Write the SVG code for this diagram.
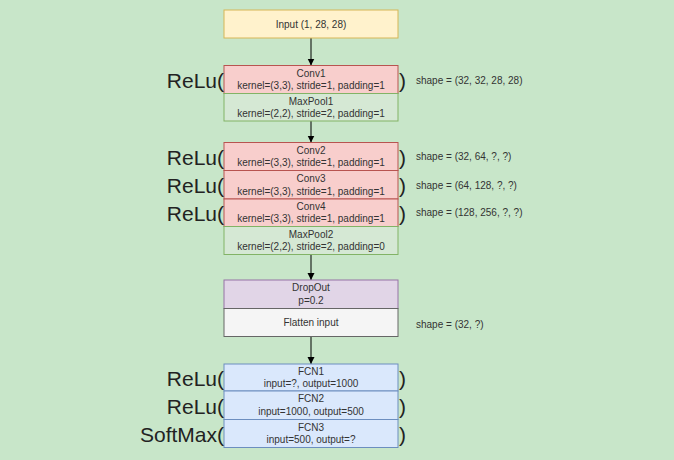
<svg xmlns="http://www.w3.org/2000/svg" width="674" height="460" viewBox="0 0 674 460">
<defs>
<marker id="arr" markerWidth="8" markerHeight="8" refX="7" refY="4" orient="auto" markerUnits="userSpaceOnUse">
<path d="M0,0.5 L7,4 L0,7.5 Z" fill="#000"/>
</marker>
<style>
.t{font-family:"Liberation Sans",Arial,sans-serif;font-size:10px;fill:#333;text-anchor:middle}
.s{font-family:"Liberation Sans",Arial,sans-serif;font-size:10px;fill:#333}
.big{font-family:"Liberation Sans",Arial,sans-serif;font-size:21px;fill:#222}
.r{text-anchor:end}
.inp{fill:#fff2cc;stroke:#d6b656}
.conv{fill:#f8cecc;stroke:#b85450}
.pool{fill:#d5e8d4;stroke:#82b366}
.drop{fill:#e1d5e7;stroke:#9673a6}
.flat{fill:#f5f5f5;stroke:#666}
.fcn{fill:#dae8fc;stroke:#6c8ebf}
.c{stroke:#000;stroke-width:1;fill:none}
</style>
</defs>
<rect width="674" height="460" fill="#c8e6c9"/>
<g id="connectors">
<line class="c" x1="311" y1="38" x2="311" y2="65.5" marker-end="url(#arr)"/>
<line class="c" x1="311" y1="121" x2="311" y2="142.5" marker-end="url(#arr)"/>
<line class="c" x1="311" y1="254.5" x2="311" y2="280" marker-end="url(#arr)"/>
<line class="c" x1="311" y1="336.5" x2="311" y2="364" marker-end="url(#arr)"/>
</g>
<g id="input">
<rect class="inp" x="224" y="10" width="174" height="28"/>
<text class="t" x="311" y="27.5">Input (1, 28, 28)</text>
</g>
<g id="conv1">
<rect class="conv" x="224" y="65.5" width="174" height="28"/>
<text class="t" x="311" y="76.5">Conv1</text>
<text class="t" x="311" y="89">kernel=(3,3), stride=1, padding=1</text>
<text class="big r" x="224" y="88">ReLu(</text>
<text class="big" x="399" y="88">)</text>
<text class="s" x="416" y="83.5">shape = (32, 32, 28, 28)</text>
</g>
<g id="maxpool1">
<rect class="pool" x="224" y="93.5" width="174" height="27.5"/>
<text class="t" x="311" y="104.5">MaxPool1</text>
<text class="t" x="311" y="117">kernel=(2,2), stride=2, padding=1</text>
</g>
<g id="conv2">
<rect class="conv" x="224" y="142.5" width="174" height="28"/>
<text class="t" x="311" y="153.5">Conv2</text>
<text class="t" x="311" y="166">kernel=(3,3), stride=1, padding=1</text>
<text class="big r" x="224" y="165">ReLu(</text>
<text class="big" x="399" y="165">)</text>
<text class="s" x="416" y="160">shape = (32, 64, ?, ?)</text>
</g>
<g id="conv3">
<rect class="conv" x="224" y="170.5" width="174" height="28.5"/>
<text class="t" x="311" y="181.5">Conv3</text>
<text class="t" x="311" y="194.5">kernel=(3,3), stride=1, padding=1</text>
<text class="big r" x="224" y="193">ReLu(</text>
<text class="big" x="399" y="193">)</text>
<text class="s" x="416" y="188.5">shape = (64, 128, ?, ?)</text>
</g>
<g id="conv4">
<rect class="conv" x="224" y="199" width="174" height="27.5"/>
<text class="t" x="311" y="209.5">Conv4</text>
<text class="t" x="311" y="222">kernel=(3,3), stride=1, padding=1</text>
<text class="big r" x="224" y="220.5">ReLu(</text>
<text class="big" x="399" y="220.5">)</text>
<text class="s" x="416" y="216">shape = (128, 256, ?, ?)</text>
</g>
<g id="maxpool2">
<rect class="pool" x="224" y="226.5" width="174" height="28"/>
<text class="t" x="311" y="237.5">MaxPool2</text>
<text class="t" x="311" y="250">kernel=(2,2), stride=2, padding=0</text>
</g>
<g id="dropout">
<rect class="drop" x="224" y="280" width="174" height="28.5"/>
<text class="t" x="311" y="291">DropOut</text>
<text class="t" x="311" y="304">p=0.2</text>
</g>
<g id="flatten">
<rect class="flat" x="224" y="308.5" width="174" height="28"/>
<text class="t" x="311" y="326">Flatten input</text>
<text class="s" x="416" y="327.5">shape = (32, ?)</text>
</g>
<g id="fcn1">
<rect class="fcn" x="224" y="364" width="174" height="27"/>
<text class="t" x="311" y="374.5">FCN1</text>
<text class="t" x="311" y="387">input=?, output=1000</text>
<text class="big r" x="224" y="385.5">ReLu(</text>
<text class="big" x="399" y="385.5">)</text>
</g>
<g id="fcn2">
<rect class="fcn" x="224" y="391" width="174" height="28.5"/>
<text class="t" x="311" y="402">FCN2</text>
<text class="t" x="311" y="415">input=1000, output=500</text>
<text class="big r" x="224" y="413.5">ReLu(</text>
<text class="big" x="399" y="413.5">)</text>
</g>
<g id="fcn3">
<rect class="fcn" x="224" y="419.5" width="174" height="28"/>
<text class="t" x="311" y="430.5">FCN3</text>
<text class="t" x="311" y="443">input=500, output=?</text>
<text class="big r" x="224" y="441.5">SoftMax(</text>
<text class="big" x="399" y="441.5">)</text>
</g>
</svg>
